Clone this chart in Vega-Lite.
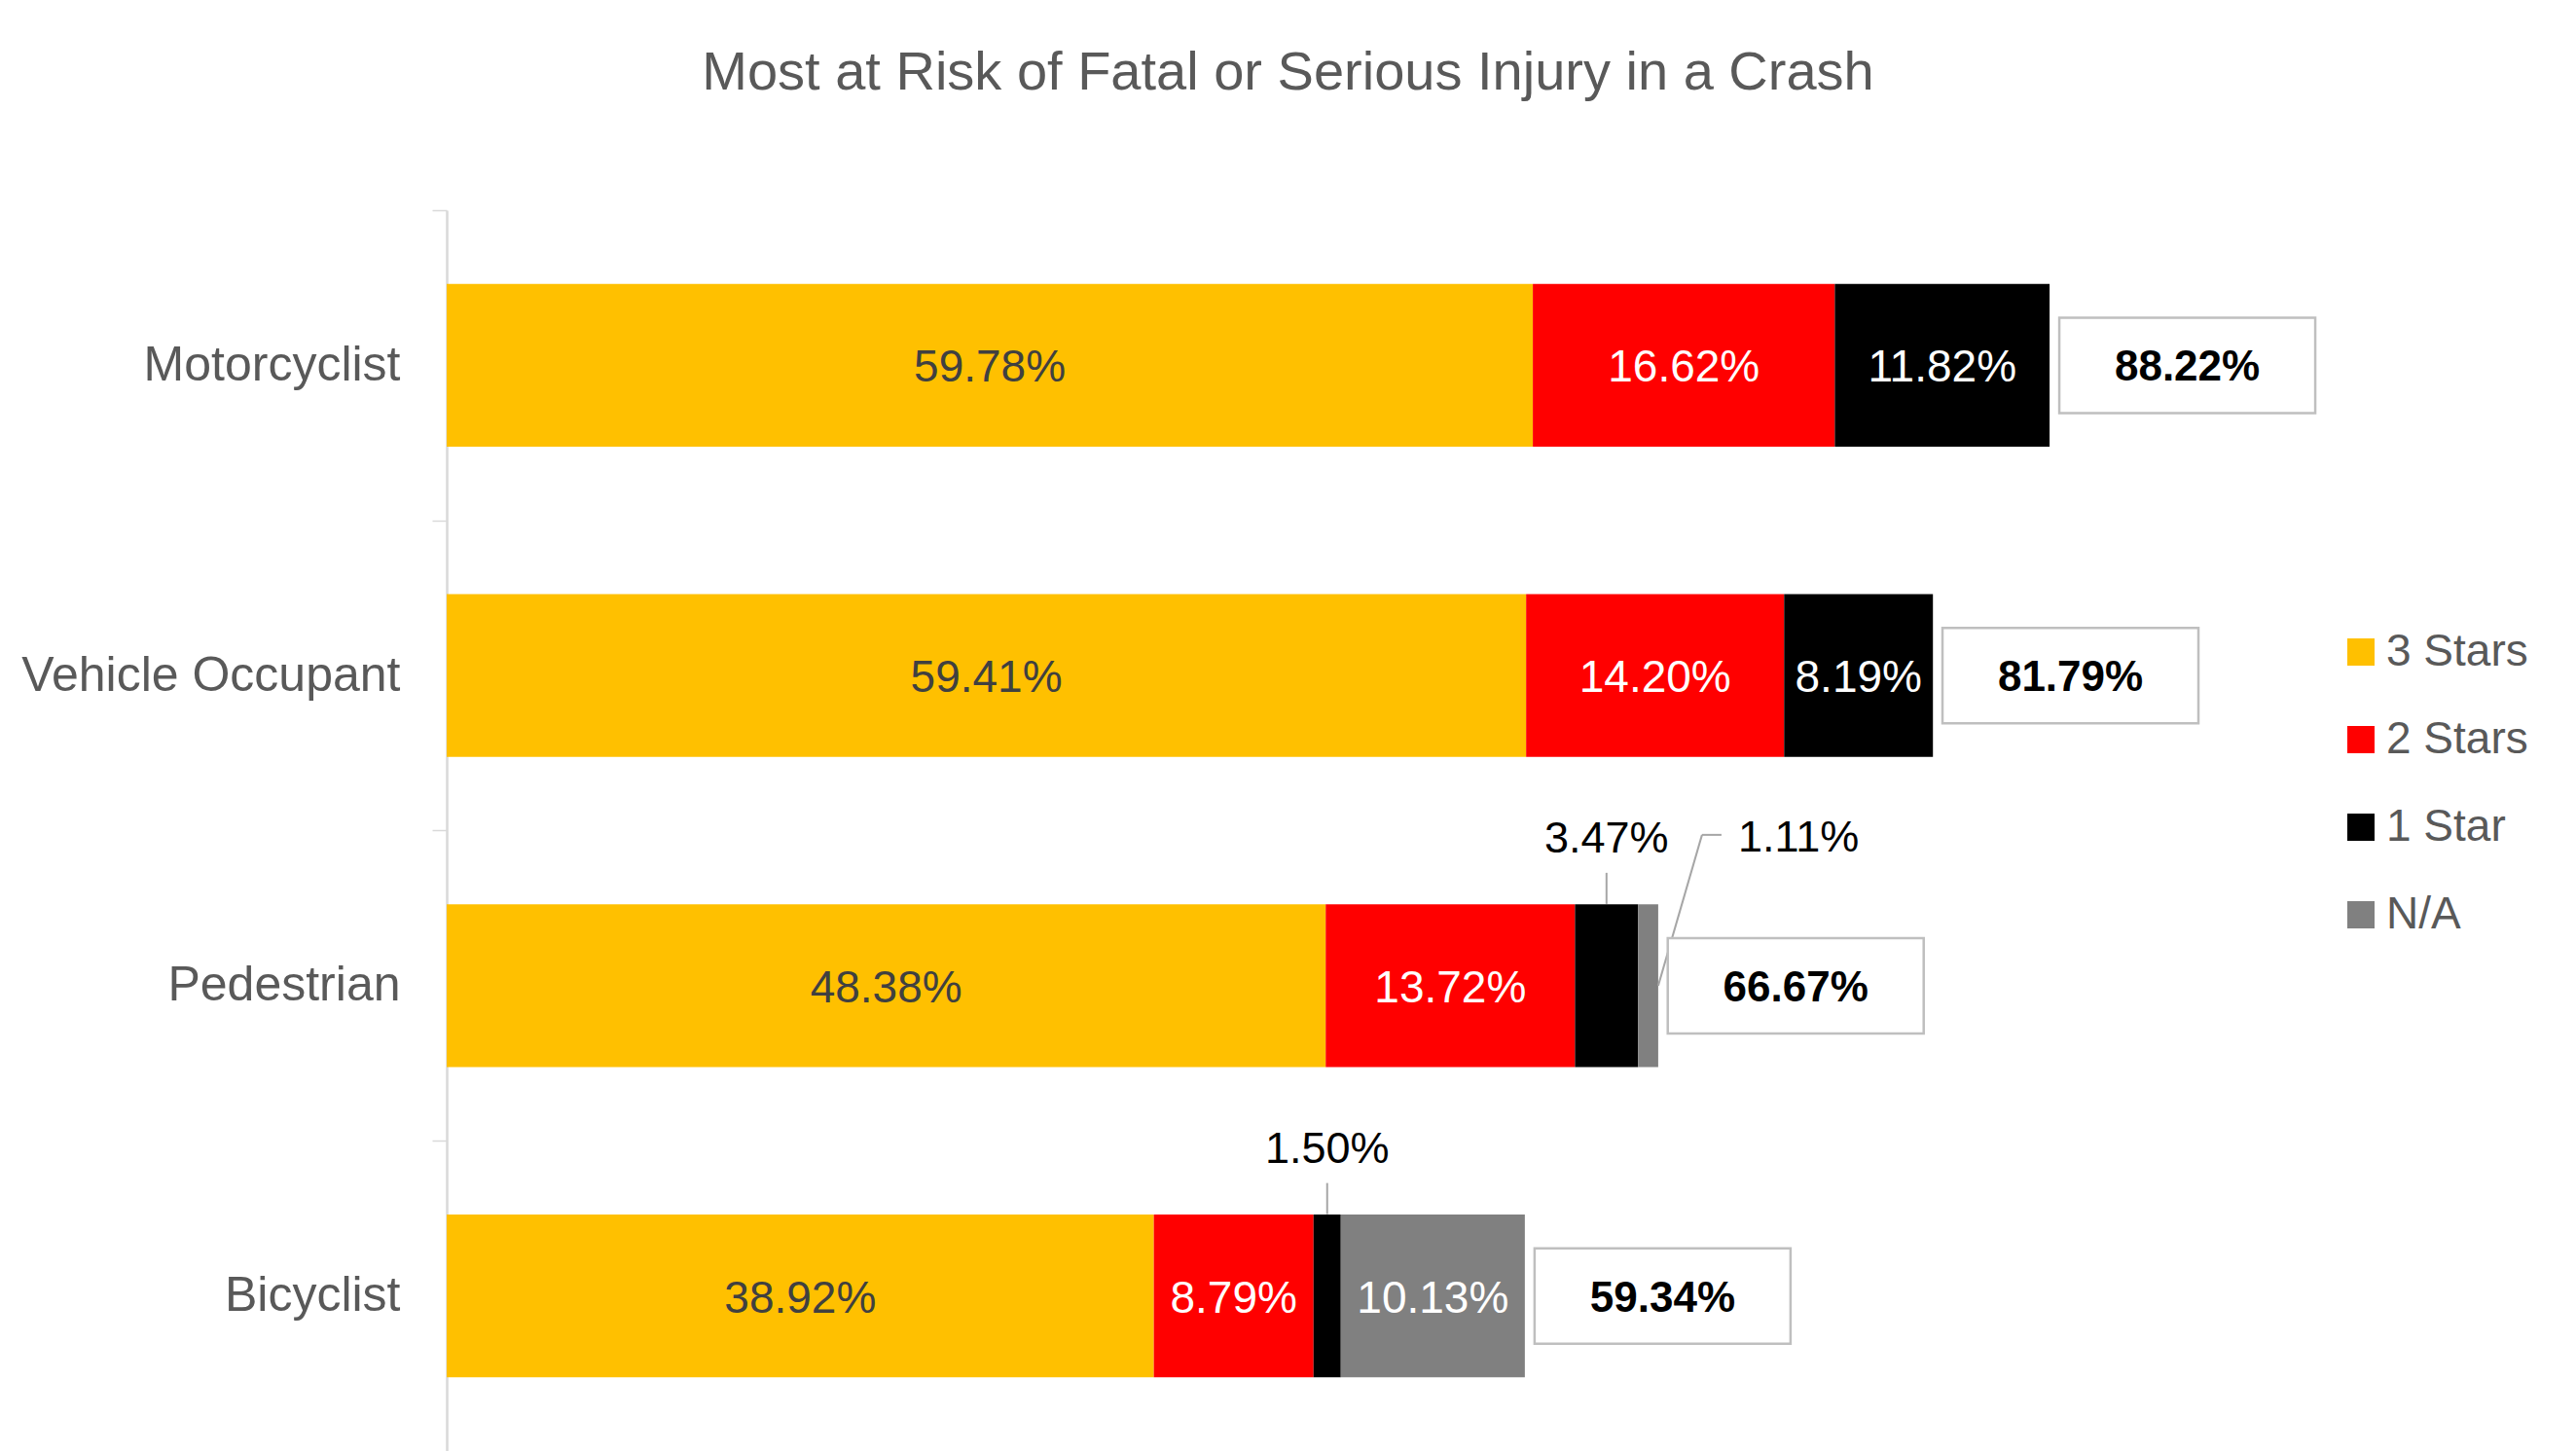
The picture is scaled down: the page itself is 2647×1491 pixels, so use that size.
{
  "$schema": "https://vega.github.io/schema/vega-lite/v6.json",
  "autosize": "none",
  "padding": {"left": 459, "top": 216, "right": 321, "bottom": 0},
  "width": 1867,
  "height": 1275,
  "background": "white",
  "config": {"view": {"stroke": null}},
  "title": {
    "text": "Most at Risk of Fatal or Serious Injury in a Crash",
    "font": "Liberation Sans",
    "fontSize": 56,
    "fontWeight": "normal",
    "color": "#595959",
    "anchor": "middle",
    "frame": "group",
    "dx": -69,
    "offset": 67,
    "baseline": "alphabetic"
  },
  "datasets": {
    "segs": [
      {"cat": "Motorcyclist", "star": "3 Stars", "stars": 3, "value": 0.5978},
      {"cat": "Motorcyclist", "star": "2 Stars", "stars": 2, "value": 0.1662},
      {"cat": "Motorcyclist", "star": "1 Star", "stars": 1, "value": 0.1182},
      {"cat": "Vehicle Occupant", "star": "3 Stars", "stars": 3, "value": 0.5941},
      {"cat": "Vehicle Occupant", "star": "2 Stars", "stars": 2, "value": 0.1420},
      {"cat": "Vehicle Occupant", "star": "1 Star", "stars": 1, "value": 0.0819},
      {"cat": "Pedestrian", "star": "3 Stars", "stars": 3, "value": 0.4838},
      {"cat": "Pedestrian", "star": "2 Stars", "stars": 2, "value": 0.1372},
      {"cat": "Pedestrian", "star": "1 Star", "stars": 1, "value": 0.0347},
      {"cat": "Pedestrian", "star": "N/A", "stars": 0, "value": 0.0111},
      {"cat": "Bicyclist", "star": "3 Stars", "stars": 3, "value": 0.3892},
      {"cat": "Bicyclist", "star": "2 Stars", "stars": 2, "value": 0.0879},
      {"cat": "Bicyclist", "star": "1 Star", "stars": 1, "value": 0.0150},
      {"cat": "Bicyclist", "star": "N/A", "stars": 0, "value": 0.1013}
    ],
    "totals": [
      {"cat": "Motorcyclist", "total": 0.8822},
      {"cat": "Vehicle Occupant", "total": 0.8179},
      {"cat": "Pedestrian", "total": 0.6667},
      {"cat": "Bicyclist", "total": 0.5934}
    ]
  },
  "encoding": {
    "y": {
      "field": "cat",
      "type": "nominal",
      "scale": {
        "domain": ["Motorcyclist", "Vehicle Occupant", "Pedestrian", "Bicyclist"],
        "paddingInner": 0.476,
        "paddingOuter": 0.238
      },
      "axis": {
        "title": null,
        "domain": true,
        "domainColor": "#D9D9D9",
        "domainWidth": 2.5,
        "ticks": true,
        "bandPosition": 0,
        "tickOffset": -75.87,
        "labelOffset": 75.87,
        "tickColor": "#D9D9D9",
        "tickSize": 15,
        "tickWidth": 1.5,
        "labelFont": "Liberation Sans",
        "labelFontSize": 50,
        "labelColor": "#595959",
        "labelPadding": 33,
        "labelLimit": 0
      }
    }
  },
  "layer": [
    {
      "data": {"name": "segs"},
      "transform": [
        {"stack": "value", "groupby": ["cat"], "sort": [{"field": "stars", "order": "descending"}], "as": ["x0", "x1"]},
        {"fold": ["x0", "x1"], "as": ["edge", "pos"]},
        {"joinaggregate": [{"op": "mean", "field": "pos", "as": "mid"}], "groupby": ["cat", "star"]},
        {"filter": "datum.edge == 'x0'"}
      ],
      "layer": [
        {
          "mark": {"type": "bar"},
          "encoding": {
            "x": {"field": "x0", "type": "quantitative", "scale": {"domain": [0, 1], "nice": false, "zero": true}, "axis": null},
            "x2": {"field": "x1"},
            "color": {
              "field": "star",
              "type": "nominal",
              "scale": {"domain": ["3 Stars", "2 Stars", "1 Star", "N/A"], "range": ["#FFC000", "#FF0000", "#000000", "#808080"]},
              "legend": {
                "title": null,
                "orient": "none",
                "legendX": 1944,
                "legendY": 431,
                "direction": "vertical",
                "symbolType": "square",
                "symbolSize": 784,
                "symbolStrokeWidth": 0,
                "symbolOpacity": 1,
                "labelFont": "Liberation Sans",
                "labelFontSize": 46,
                "labelColor": "#595959",
                "labelOffset": 3,
                "rowPadding": 44
              }
            }
          }
        },
        {
          "transform": [{"filter": "datum.value >= 0.05"}],
          "mark": {"type": "text", "font": "Liberation Sans", "fontSize": 46, "baseline": "middle", "align": "center", "dy": 3},
          "encoding": {
            "x": {"field": "mid", "type": "quantitative"},
            "text": {"field": "value", "type": "quantitative", "format": ".2%"},
            "color": {"condition": {"test": "datum.star == '3 Stars'", "value": "#404040"}, "value": "#FFFFFF"}
          }
        },
        {
          "transform": [{"filter": "datum.value < 0.05 && datum.star == '1 Star'"}],
          "mark": {"type": "rule", "color": "#A6A6A6", "strokeWidth": 2, "yOffset": -116, "y2Offset": -84},
          "encoding": {
            "x": {"field": "mid", "type": "quantitative"},
            "y2": {"field": "cat"}
          }
        },
        {
          "transform": [{"filter": "datum.value < 0.05 && datum.star == '1 Star'"}],
          "mark": {"type": "text", "font": "Liberation Sans", "fontSize": 45, "baseline": "middle", "align": "center", "dy": -151, "color": "#000000"},
          "encoding": {
            "x": {"field": "mid", "type": "quantitative"},
            "text": {"field": "value", "type": "quantitative", "format": ".2%"}
          }
        },
        {
          "transform": [{"filter": "datum.value < 0.05 && datum.star == 'N/A'"}],
          "mark": {"type": "rule", "color": "#A6A6A6", "strokeWidth": 2, "x2Offset": 45, "y2Offset": -155},
          "encoding": {
            "x": {"field": "x1", "type": "quantitative"},
            "x2": {"field": "x1"},
            "y2": {"field": "cat"}
          }
        },
        {
          "transform": [{"filter": "datum.value < 0.05 && datum.star == 'N/A'"}],
          "mark": {"type": "rule", "color": "#A6A6A6", "strokeWidth": 2, "xOffset": 45, "x2Offset": 65, "yOffset": -155, "y2Offset": -155},
          "encoding": {
            "x": {"field": "x1", "type": "quantitative"},
            "x2": {"field": "x1"},
            "y2": {"field": "cat"}
          }
        },
        {
          "transform": [{"filter": "datum.value < 0.05 && datum.star == 'N/A'"}],
          "mark": {"type": "text", "font": "Liberation Sans", "fontSize": 45, "baseline": "middle", "align": "left", "dx": 82, "dy": -152, "color": "#000000"},
          "encoding": {
            "x": {"field": "x1", "type": "quantitative"},
            "text": {"field": "value", "type": "quantitative", "format": ".2%"}
          }
        }
      ]
    },
    {
      "data": {"name": "totals"},
      "layer": [
        {
          "mark": {"type": "bar", "height": 98, "fill": "#FFFFFF", "stroke": "#BFBFBF", "strokeWidth": 2.5, "xOffset": 10, "x2Offset": 273},
          "encoding": {
            "x": {"field": "total", "type": "quantitative"},
            "x2": {"field": "total"}
          }
        },
        {
          "mark": {"type": "text", "font": "Liberation Sans", "fontSize": 44, "fontWeight": "bold", "baseline": "middle", "align": "center", "dx": 141.5, "dy": 3, "color": "#000000"},
          "encoding": {
            "x": {"field": "total", "type": "quantitative"},
            "text": {"field": "total", "type": "quantitative", "format": ".2%"}
          }
        }
      ]
    }
  ]
}
